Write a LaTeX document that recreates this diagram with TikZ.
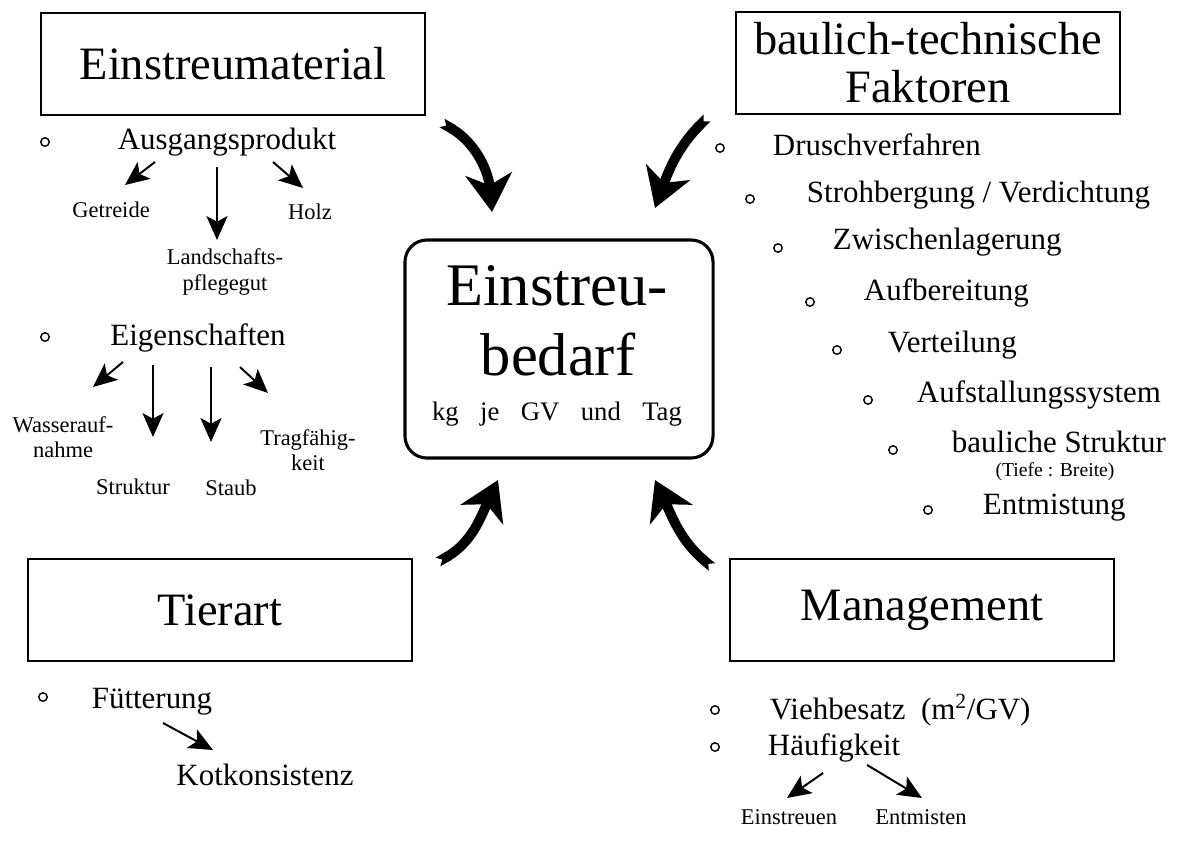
\documentclass[tikz,border=0pt]{standalone}
\usepackage{fontspec}
\setmainfont{Liberation Serif}
\usetikzlibrary{arrows.meta}

\begin{document}
\begin{tikzpicture}[x=0.025cm,y=-0.025cm,
    kasten/.style={draw,line width=0.9pt,minimum width=9.6cm,minimum height=2.55cm,align=center,font=\fontsize{33}{34}\selectfont},
    zentral/.style={draw,line width=2.2pt,rounded corners=0.55cm,minimum width=7.7cm,minimum height=5.45cm},
    gross/.style={font=\fontsize{43}{50}\selectfont},
    mittel/.style={font=\fontsize{22}{26}\selectfont},
    klein/.style={font=\fontsize{16}{18}\selectfont,align=center},
    punkt/.style={draw,circle,line width=1pt,inner sep=0pt,minimum size=6pt},
    pfeil/.style={line width=7pt,{Triangle Cap[reversed]}-{Stealth[length=27pt,width=33pt,inset=8pt]}},
    spfeil/.style={line width=1.4pt,-{Stealth[length=17pt,width=15pt,inset=4pt]}}]
  \path[use as bounding box,fill=white] (0,0) rectangle (1203,861);

  % die vier Einflussgruppen
  \node[kasten] (EM) at (233,64) {Einstreumaterial};
  \node[kasten] (BT) at (928,63) {baulich-technische\\Faktoren};
  \node[kasten] (TA) at (220,610) {Tierart};
  \node[kasten] (MG) at (922,610) {Management};

  % Mitte
  \node[zentral] (EB) at (559,349) {};
  \node[gross,anchor=base] (E1) at (557,305) {Einstreu-};
  \node[gross,anchor=base] (E2) at (558,375) {bedarf};
  \node[font=\fontsize{19}{22}\selectfont,anchor=base] (E3) at (557,420) {kg\hspace{0.8em}je\hspace{0.8em}GV\hspace{0.8em}und\hspace{0.8em}Tag};

  \draw[pfeil] ([shift={(209,59)}]EM.center) to[out=-30,in=95] ([shift={(-67,-137)}]EB.center);
  \draw[pfeil] ([shift={(-221,55)}]BT.center) to[out=225,in=70] ([shift={(96,-141)}]EB.center);
  \draw[pfeil] ([shift={(218,-48)}]TA.center) to[out=30,in=-115] ([shift={(-61,131)}]EB.center);
  \draw[pfeil] ([shift={(-210,-43)}]MG.center) to[out=140,in=-65] ([shift={(96,131)}]EB.center);

  % Einstreumaterial
  \node[punkt] (p1) at (45,142) {};
  \node[mittel] (AP) at (227,142) {Ausgangsprodukt};
  \node[klein] (GT) at (111,210) {Getreide};
  \node[klein] (HZ) at (310,212) {Holz};
  \node[klein] (LP) at (225,272) {Landschafts-\\pflegegut};
  \draw[spfeil] ([shift={(-72,20)}]AP.center) -- ([shift={(14,-25)}]GT.center);
  \draw[spfeil] ([shift={(-10,25)}]AP.center) -- ([shift={(-8,-32)}]LP.center);
  \draw[spfeil] ([shift={(46,20)}]AP.center) -- ([shift={(-7,-24)}]HZ.center);

  \node[punkt] (p2) at (45,337) {};
  \node[mittel] (ES) at (198,338) {Eigenschaften};
  \node[klein] (WA) at (63,437) {Wasserauf-\\nahme};
  \node[klein] (ST) at (133,487) {Struktur};
  \node[klein] (SB) at (231,488) {Staub};
  \node[klein] (TF) at (308,450) {Tragfähig-\\keit};
  \draw[spfeil] ([shift={(-75,24)}]ES.center) -- ([shift={(30,-50)}]WA.center);
  \draw[spfeil] ([shift={(-45,27)}]ES.center) -- ([shift={(20,-50)}]ST.center);
  \draw[spfeil] ([shift={(13,29)}]ES.center) -- ([shift={(-20,-46)}]SB.center);
  \draw[spfeil] ([shift={(42,29)}]ES.center) -- ([shift={(-40,-57)}]TF.center);

  % baulich-technische Faktoren
  \node[punkt] (p3) at (720,148) {};
  \node[mittel,anchor=west] (DV) at (768,145) {Druschverfahren};
  \node[punkt] (p4) at (750,199) {};
  \node[mittel,anchor=west] (SV) at (802,195) {Strohbergung / Verdichtung};
  \node[punkt] (p5) at (778,248) {};
  \node[mittel,anchor=west] (ZL) at (828,242) {Zwischenlagerung};
  \node[punkt] (p6) at (810,302) {};
  \node[mittel,anchor=west] (AB) at (859,293) {Aufbereitung};
  \node[punkt] (p7) at (837,350) {};
  \node[mittel,anchor=west] (VT) at (883,345) {Verteilung};
  \node[punkt] (p8) at (868,400) {};
  \node[mittel,anchor=west] (AS) at (912,395) {Aufstallungssystem};
  \node[punkt] (p9) at (893,450) {};
  \node[mittel,anchor=west] (BS) at (947,442) {bauliche Struktur};
  \node[klein,font=\fontsize{14}{16}\selectfont] (TB) at (1055,472) {(Tiefe : Breite)};
  \node[punkt] (p10) at (928,510) {};
  \node[mittel,anchor=west] (ET) at (978,508) {Entmistung};

  % Tierart
  \node[punkt] (p11) at (43,697) {};
  \node[mittel] (FU) at (152,702) {Fütterung};
  \node[mittel] (KK) at (265,775) {Kotkonsistenz};
  \draw[spfeil] ([shift={(11,21)}]FU.center) -- ([shift={(-52,-25)}]KK.center);

  % Management
  \node[punkt] (p12) at (715,710) {};
  \node[mittel,anchor=west] (VB) at (765,710) {Viehbesatz~~(m\textsuperscript{2}/GV)};
  \node[punkt] (p13) at (715,747) {};
  \node[mittel,anchor=west] (HK) at (763,748) {Häufigkeit};
  \node[klein] (EI) at (789,817) {Einstreuen};
  \node[klein] (EN) at (921,817) {Entmisten};
  \draw[spfeil] ([shift={(-11,25)}]HK.center) -- ([shift={(-2,-19)}]EI.center);
  \draw[spfeil] ([shift={(33,17)}]HK.center) -- ([shift={(1,-19)}]EN.center);
\end{tikzpicture}
\end{document}
